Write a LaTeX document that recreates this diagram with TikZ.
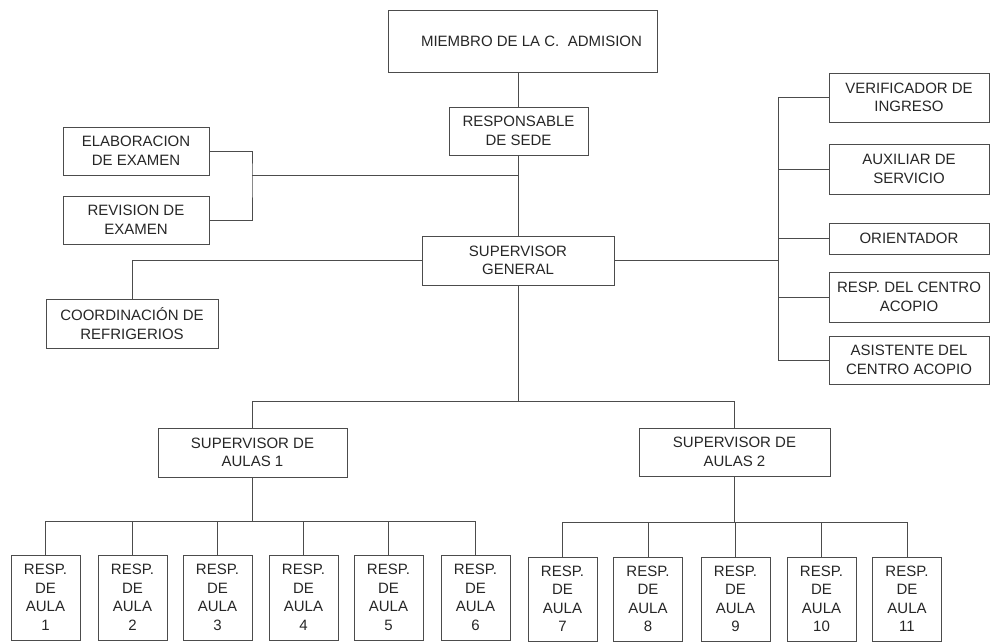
\documentclass[tikz,border=0pt]{standalone}
\usepackage{fontspec}
\setmainfont{Liberation Sans}
\begin{document}
\begin{tikzpicture}[x=1pt,y=-1pt,
  box/.style={draw=black!70, line width=0.8pt, rectangle, inner sep=0pt, align=center,
    font=\fontsize{15pt}{18.5pt}\selectfont, text=black!85},
  conn/.style={draw=black!70, line width=0.8pt}]
\useasboundingbox (0,0) rectangle (991,642);
% top
\node[box, minimum width=269pt, minimum height=62pt] (miembro) at (522.5,41) {\hspace*{18pt}MIEMBRO DE LA C.~~ADMISION};
\node[box, minimum width=139pt, minimum height=48pt] (rsede) at (518.5,131) {RESPONSABLE\\DE SEDE};
\node[box, minimum width=146pt, minimum height=48pt] (elab) at (136,151) {ELABORACION\\DE EXAMEN};
\node[box, minimum width=146pt, minimum height=48pt] (rev) at (136,220) {REVISION DE\\EXAMEN};
\node[box, minimum width=192pt, minimum height=49pt] (sg) at (518,260.5) {SUPERVISOR\\GENERAL};
\node[box, minimum width=172pt, minimum height=49pt] (coord) at (132,323.5) {COORDINACIÓN DE\\REFRIGERIOS};
% right column
\node[box, minimum width=160pt, minimum height=49pt] (verif) at (909,97.5) {VERIFICADOR DE\\INGRESO};
\node[box, minimum width=160pt, minimum height=50pt] (aux) at (909,169) {AUXILIAR DE\\SERVICIO};
\node[box, minimum width=160pt, minimum height=31pt] (orient) at (909,238.5) {ORIENTADOR};
\node[box, minimum width=160pt, minimum height=50pt] (rcentro) at (909,297) {RESP. DEL CENTRO\\ACOPIO};
\node[box, minimum width=160pt, minimum height=48pt] (asist) at (909,360) {ASISTENTE DEL\\CENTRO ACOPIO};
% supervisors of aulas
\node[box, minimum width=189pt, minimum height=49pt] (sa1) at (252.5,452.5) {SUPERVISOR DE\\AULAS 1};
\node[box, minimum width=191pt, minimum height=48pt] (sa2) at (734.5,452) {SUPERVISOR DE\\AULAS 2};
% resp de aula
\foreach \i/\x in {1/45.5,2/132.5,3/217.5,4/303.5,5/388.5,6/475.5}
  \node[box, minimum width=69pt, minimum height=85pt] (r\i) at (\x,597.5) {RESP.\\DE\\AULA\\\i};
\foreach \i/\x in {7/562.5,8/648,9/735.5,10/821.5,11/907}
  \node[box, minimum width=69pt, minimum height=84pt] (r\i) at (\x,599) {RESP.\\DE\\AULA\\\i};
% coordinates
\coordinate (bx) at (252,175);
\coordinate (sp) at (778,0);
\coordinate (bus) at (0,401);
\coordinate (bus1) at (0,521);
\coordinate (bus2) at (0,522);
% connectors
\draw[conn] (rsede.north) -- (rsede.north |- miembro.south);
\draw[conn] (rsede.south) -- (sg.north -| rsede.south);
\draw[conn] (elab.east) -| (bx) |- (rev.east);
\draw[conn] (bx) -- (bx -| rsede.south);
\draw[conn] (sg.west) -| (coord.north);
\draw[conn] (sg.east) -- (sg.east -| sp);
\draw[conn] (verif.west) -- (verif.west -| sp) -- (asist.west -| sp) -- (asist.west);
\foreach \n in {aux,orient,rcentro}
  \draw[conn] (\n.west) -- (\n.west -| sp);
\draw[conn] (sg.south) -- (sg.south |- bus);
\draw[conn] (sa1.north) -- (sa1.north |- bus) -- (sa2.north |- bus) -- (sa2.north);
\draw[conn] (sa1.south) -- (sa1.south |- bus1);
\draw[conn] (r1.north) -- (r1.north |- bus1) -- (r6.north |- bus1) -- (r6.north);
\foreach \i in {2,3,4,5}
  \draw[conn] (r\i.north) -- (r\i.north |- bus1);
\draw[conn] (sa2.south) -- (sa2.south |- bus2);
\draw[conn] (r7.north) -- (r7.north |- bus2) -- (r11.north |- bus2) -- (r11.north);
\foreach \i in {8,9,10}
  \draw[conn] (r\i.north) -- (r\i.north |- bus2);
\end{tikzpicture}
\end{document}
